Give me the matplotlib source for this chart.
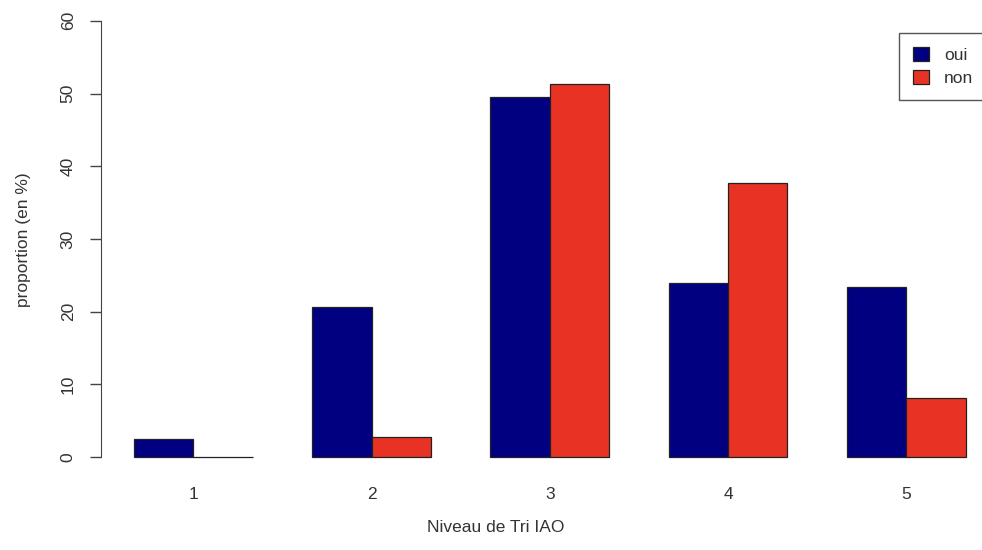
import matplotlib
matplotlib.use("Agg")
import matplotlib.pyplot as plt
import numpy as np

# values (percent)
niveaux = ["1", "2", "3", "4", "5"]
oui = [2.5, 20.6, 49.5, 23.9, 23.4]
non = [0.0, 2.8, 51.3, 37.7, 8.1]

plt.rcParams['font.family'] = ['Liberation Sans', 'DejaVu Sans']
fs = 12.5

W, H = 982, 550
fig = plt.figure(figsize=(W / 100, H / 100), dpi=100)

# R barplot(beside=TRUE) geometry: bars of width 1, one unit gap before each group
xlim = (0.44, 15.56)
ylim = (-2.4, 62.4)
px0, px1 = 100.7, 999.0
py0, py1 = 474.4, 3.4
ax = fig.add_axes([px0 / W, 1 - py0 / H, (px1 - px0) / W, (py0 - py1) / H])

starts = 1 + 3 * np.arange(len(niveaux))
ax.bar(starts, oui, width=1, align='edge', color='#000080', edgecolor='#222222', linewidth=0.9, label='oui')
ax.bar(starts + 1, non, width=1, align='edge', color='#E83324', edgecolor='#222222', linewidth=0.9, label='non')

ax.set_xlim(*xlim)
ax.set_ylim(*ylim)
for s in ['top', 'right', 'bottom']:
    ax.spines[s].set_visible(False)
ax.spines['left'].set_bounds(0, 60)
ax.spines['left'].set_color('#444444')

ax.set_yticks(range(0, 61, 10))
ax.set_yticklabels([str(v) for v in range(0, 61, 10)], rotation=90, va='center', fontsize=fs, color='#333333')
ax.tick_params(axis='y', length=8, width=1, color='#444444', pad=10)

ax.set_xticks(starts + 1)
ax.set_xticklabels(niveaux, fontsize=fs, color='#333333')
ax.tick_params(axis='x', length=0, pad=9)

fig.text(24 / W, 1 - 240 / H, "proportion (en %)", rotation=90, ha='center', va='center', fontsize=fs, color='#333333')
fig.text(496 / W, 1 - 527 / H, "Niveau de Tri IAO", ha='center', va='center', fontsize=fs, color='#333333')

leg = fig.legend(loc='upper left', bbox_to_anchor=(899 / W, 1 - 33 / H), fontsize=fs,
                 fancybox=False, edgecolor='#555555', framealpha=1,
                 handlelength=0.95, handleheight=0.85, handletextpad=0.85,
                 borderpad=0.8, labelspacing=0.4, borderaxespad=0)
leg.get_frame().set_linewidth(1.0)
for t in leg.get_texts():
    t.set_color('#333333')

fig.savefig("out.png", dpi=100)
